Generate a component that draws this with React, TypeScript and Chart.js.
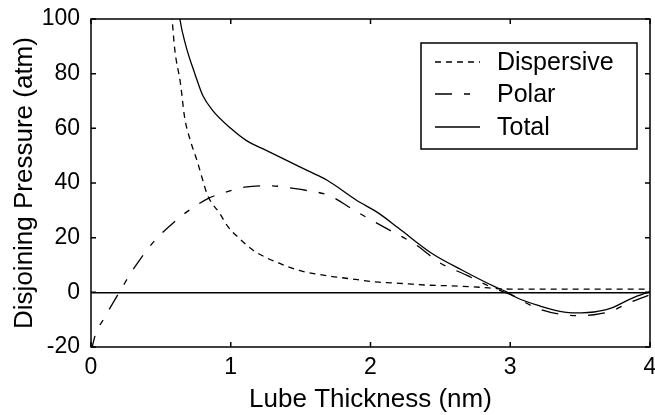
import React, { useEffect, useRef } from "react";
import { Chart, registerables } from "chart.js";

Chart.register(...registerables);

// ---- data ----
const dispersiveX = [0.54, 0.58, 0.6, 0.64, 0.67, 0.71, 0.76, 0.8, 0.83, 0.86, 0.92, 0.98, 1.06, 1.16, 1.25, 1.33, 1.49, 1.7, 1.85, 2.06, 2.21, 2.42, 2.56, 2.8, 2.9, 3.0, 3.5, 4.0];
const dispersiveY = [122, 100, 88.6, 76.5, 64, 55.7, 48, 41, 36, 33, 29, 24, 19.8, 15.4, 12.8, 11, 8, 6, 5, 3.7, 3.3, 2.6, 2.4, 1.8, 1.4, 1.2, 1.2, 1.2];

const polarX = [0.0, 0.03, 0.1, 0.21, 0.31, 0.44, 0.61, 0.73, 0.84, 0.96, 1.1, 1.28, 1.45, 1.55, 1.7, 1.9, 2.11, 2.33, 2.49, 2.69, 2.85, 3.0, 3.2, 3.4, 3.51, 3.6, 3.71, 3.87, 4.0];
const polarY = [-22, -15.7, -9, 0.7, 9, 18, 26.4, 31, 34.4, 36.6, 38.5, 39, 38, 37.2, 35.5, 29.5, 23.5, 17.2, 11, 6.2, 2.2, -0.8, -6, -8.3, -8.5, -8.2, -7.1, -3.4, -0.9];

const totalX = [0.61, 0.636, 0.68, 0.743, 0.8, 0.87, 1.0, 1.11, 1.25, 1.4, 1.55, 1.69, 1.9, 2.06, 2.2, 2.44, 2.66, 2.9, 2.98, 3.04, 3.2, 3.4, 3.51, 3.6, 3.71, 3.87, 4.0];
const totalY = [112, 100, 90, 80, 72, 66.6, 60, 55.6, 52, 48.3, 44.5, 41, 33.7, 28.9, 23.5, 14.2, 8, 1.8, 0, -1.8, -4.8, -7.3, -7.5, -7.2, -6, -2.2, 0.3];

const seriesLabels = ["Dispersive", "Polar", "Total"];
const xTickValues = [0, 1, 2, 3, 4];
const yTickValues = [-20, 0, 20, 40, 60, 80, 100];
const xTitle = "Lube Thickness (nm)";
const yTitle = "Disjoining Pressure (atm)";

const FONT = "'Liberation Sans', Arial, Helvetica, sans-serif";

const toPoints = (xs: number[], ys: number[]) => xs.map((x, i) => ({ x, y: ys[i] }));

const framePlugin = {
  id: "frameAndLegend",
  afterDatasetsDraw(chart: any) {
    const { ctx, chartArea: a, scales } = chart;
    ctx.save();
    ctx.strokeStyle = "#000";
    ctx.lineWidth = 1.5;
    ctx.setLineDash([]);
    ctx.strokeRect(a.left, a.top, a.right - a.left, a.bottom - a.top);
    const tl = 5;
    ctx.beginPath();
    scales.x.ticks.forEach((t: any) => {
      const px = scales.x.getPixelForValue(t.value);
      ctx.moveTo(px, a.bottom);
      ctx.lineTo(px, a.bottom - tl);
      ctx.moveTo(px, a.top);
      ctx.lineTo(px, a.top + tl);
    });
    scales.y.ticks.forEach((t: any) => {
      const py = scales.y.getPixelForValue(t.value);
      ctx.moveTo(a.left, py);
      ctx.lineTo(a.left + tl, py);
      ctx.moveTo(a.right, py);
      ctx.lineTo(a.right - tl, py);
    });
    ctx.stroke();

    // legend box
    const bx = 421, by = 43, bw = 216, bh = 106;
    ctx.fillStyle = "#fff";
    ctx.fillRect(bx, by, bw, bh);
    ctx.lineWidth = 1.5;
    ctx.strokeRect(bx, by, bw, bh);
    const rows = [62, 94, 127];
    ctx.font = `25px ${FONT}`;
    ctx.textBaseline = "middle";
    ctx.textAlign = "left";
    chart.data.datasets.forEach((ds: any, i: number) => {
      const y = rows[i];
      ctx.beginPath();
      ctx.lineWidth = ds.borderWidth;
      ctx.setLineDash(ds.borderDash || []);
      ctx.moveTo(435, y);
      ctx.lineTo(480, y);
      ctx.stroke();
      ctx.setLineDash([]);
      ctx.fillStyle = "#000";
      ctx.fillText(ds.label, 497, y + 1);
    });
    ctx.restore();
  },
};

export default function App() {
  const ref = useRef<HTMLCanvasElement | null>(null);
  useEffect(() => {
    if (!ref.current) return;
    const chart = new Chart(ref.current, {
      type: "line",
      data: {
        datasets: [
          {
            label: seriesLabels[0],
            data: toPoints(dispersiveX, dispersiveY),
            borderColor: "#000",
            borderWidth: 1.3,
            borderDash: [6, 5],
            pointRadius: 0,
            cubicInterpolationMode: "monotone",
            fill: false,
          },
          {
            label: seriesLabels[1],
            data: toPoints(polarX, polarY),
            borderColor: "#000",
            borderWidth: 1.3,
            borderDash: [17, 12, 6, 12],
            pointRadius: 0,
            cubicInterpolationMode: "monotone",
            fill: false,
          },
          {
            label: seriesLabels[2],
            data: toPoints(totalX, totalY),
            borderColor: "#000",
            borderWidth: 1.3,
            pointRadius: 0,
            cubicInterpolationMode: "monotone",
            fill: false,
          },
        ],
      },
      options: {
        responsive: false,
        animation: false,
        devicePixelRatio: 1,
        layout: { padding: { left: 0, right: 5, top: 19, bottom: 0 } },
        plugins: { legend: { display: false }, tooltip: { enabled: false } },
        scales: {
          x: {
            type: "linear",
            min: 0,
            max: 4,
            afterBuildTicks: (s: any) => {
              s.ticks = xTickValues.map((v) => ({ value: v }));
            },
            afterFit: (s: any) => {
              s.height = 68;
              s.paddingLeft = 0;
              s.paddingRight = 0;
            },
            ticks: {
              color: "#000",
              padding: 7,
              maxRotation: 0,
              autoSkip: false,
              font: { family: FONT, size: 23 },
            },
            grid: { display: false, drawTicks: false },
            border: { display: false },
            title: {
              display: true,
              text: xTitle,
              color: "#000",
              font: { family: FONT, size: 26 },
              padding: { top: 2, bottom: 0 },
            },
          },
          y: {
            type: "linear",
            min: -20,
            max: 100,
            afterBuildTicks: (s: any) => {
              s.ticks = yTickValues.map((v) => ({ value: v }));
            },
            afterFit: (s: any) => {
              s.width = 91;
              s.paddingTop = 0;
              s.paddingBottom = 0;
            },
            ticks: {
              color: "#000",
              padding: 11,
              autoSkip: false,
              font: { family: FONT, size: 23 },
            },
            grid: {
              drawTicks: false,
              color: (c: any) => (c.tick && c.tick.value === 0 ? "#000" : "rgba(0,0,0,0)"),
              lineWidth: 1.5,
            },
            border: { display: false },
            title: {
              display: true,
              text: yTitle,
              color: "#000",
              font: { family: FONT, size: 26 },
              padding: { top: 9, bottom: 0 },
            },
          },
        },
      },
      plugins: [framePlugin],
    } as any);
    return () => chart.destroy();
  }, []);
  return (
    <div style={{ position: "fixed", left: 0, top: 0, width: 655, height: 415, background: "#fff" }}>
      <canvas ref={ref} width={655} height={415} style={{ display: "block" }} />
    </div>
  );
}
